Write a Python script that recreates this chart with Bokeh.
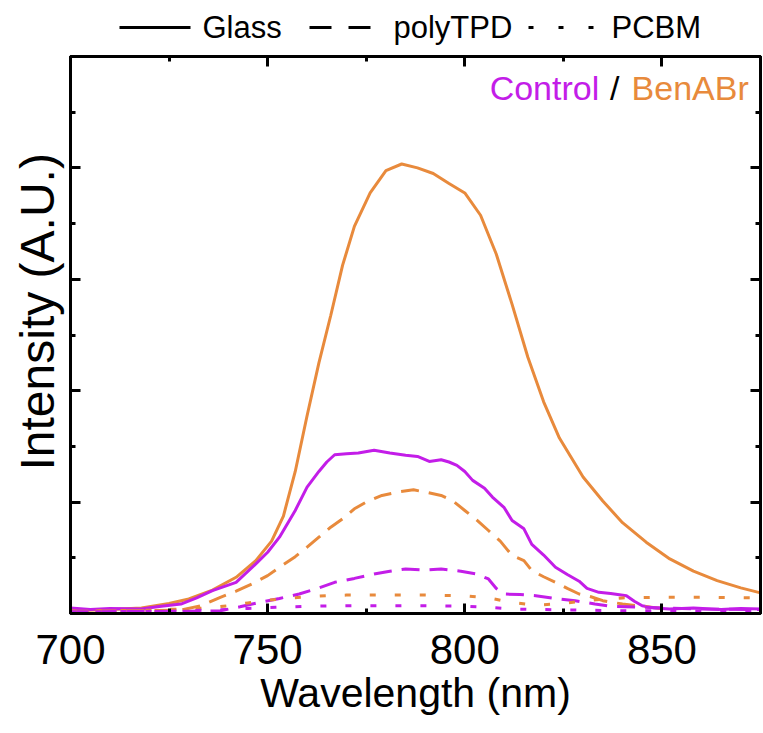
from bokeh.plotting import figure
from bokeh.models import Range1d, FixedTicker, LinearAxis, Label, Title
from bokeh.layouts import column
from bokeh.core.properties import value
from bokeh.embed import file_html
from bokeh.resources import INLINE

# ---- data ----
wl_ben_glass = [700, 710, 718, 725, 730, 736, 742, 747, 751, 754, 757, 760, 763, 766, 769, 772,
                776, 780, 784, 788, 792, 796, 800, 804, 808, 812, 816, 820, 824, 830, 835, 840,
                846, 852, 858, 864, 870, 875]
int_ben_glass = [0.05, 0.07, 0.10, 0.18, 0.26, 0.42, 0.65, 0.95, 1.30, 1.75, 2.55, 3.55, 4.50, 5.35,
                 6.25, 6.95, 7.55, 7.95, 8.07, 8.00, 7.90, 7.72, 7.55, 7.15, 6.45, 5.55, 4.60, 3.80,
                 3.15, 2.45, 2.02, 1.63, 1.28, 0.98, 0.76, 0.59, 0.46, 0.37]

wl_ctrl_glass = [700, 705, 710, 718, 722, 728, 732, 736, 742, 747, 750, 753, 757, 760, 763, 765,
                 767, 770, 773, 777, 781, 785, 788, 791, 794, 796, 798, 800, 802, 805, 807, 810,
                 812, 815, 817, 820, 823, 826, 829, 831, 834, 837, 841, 843, 845, 848, 852, 858,
                 865, 870, 875]
int_ctrl_glass = [0.10, 0.07, 0.09, 0.08, 0.12, 0.17, 0.28, 0.41, 0.56, 0.89, 1.10, 1.37, 1.85,
                  2.27, 2.55, 2.72, 2.85, 2.87, 2.88, 2.93, 2.88, 2.84, 2.82, 2.73, 2.76, 2.72,
                  2.66, 2.55, 2.39, 2.25, 2.09, 1.90, 1.67, 1.52, 1.24, 1.05, 0.83, 0.70, 0.58,
                  0.45, 0.38, 0.36, 0.32, 0.22, 0.14, 0.10, 0.08, 0.10, 0.07, 0.09, 0.08]

wl_ben_ptpd = [700, 718, 728, 733, 738, 742, 746, 750, 753, 757, 760, 763, 766, 769, 772, 775, 779,
               783, 787, 790, 794, 797, 800, 803, 806, 809, 812, 815, 817, 820, 823, 826, 829, 832,
               835, 840, 846, 852]
int_ben_ptpd = [0.04, 0.05, 0.06, 0.14, 0.29, 0.40, 0.53, 0.68, 0.83, 1.02, 1.19, 1.37, 1.55, 1.70,
                1.88, 2.00, 2.12, 2.18, 2.22, 2.18, 2.12, 2.02, 1.85, 1.68, 1.49, 1.30, 1.04, 0.95,
                0.77, 0.66, 0.56, 0.45, 0.35, 0.30, 0.23, 0.17, 0.12, 0.08]

wl_ctrl_ptpd = [700, 730, 738, 743, 748, 753, 758, 763, 767, 772, 777, 781, 785, 790, 794, 799,
                803, 806, 808, 810, 814, 818, 823, 828, 833, 837, 846, 860, 875]
int_ctrl_ptpd = [0.03, 0.04, 0.05, 0.12, 0.20, 0.27, 0.35, 0.46, 0.56, 0.63, 0.71, 0.76, 0.80,
                 0.78, 0.80, 0.76, 0.71, 0.62, 0.45, 0.35, 0.34, 0.32, 0.27, 0.23, 0.17, 0.13,
                 0.11, 0.08, 0.07]

wl_ben_pcbm = [700, 720, 735, 740, 745, 750, 755, 760, 765, 770, 780, 790, 800, 806, 812, 818, 825,
               832, 840, 850, 860, 875]
int_ben_pcbm = [0.04, 0.06, 0.10, 0.14, 0.19, 0.24, 0.27, 0.30, 0.32, 0.33, 0.33, 0.33, 0.32,
                0.28, 0.20, 0.15, 0.18, 0.24, 0.28, 0.29, 0.29, 0.28]

wl_ctrl_pcbm = [700, 725, 735, 745, 752, 760, 770, 780, 790, 800, 806, 812, 820, 830, 840, 850,
                875]
int_ctrl_pcbm = [0.03, 0.04, 0.06, 0.09, 0.11, 0.13, 0.14, 0.14, 0.14, 0.13, 0.11, 0.08, 0.07,
                 0.06, 0.05, 0.05, 0.04]

x_major = [700, 750, 800, 850]
x_minor = [725, 775, 825, 875]
y_major = [2, 4, 6, 8]
y_minor = [1, 3, 5, 7, 9]

legend_labels = ["Glass", "polyTPD", "PCBM"]
sample_names = ["Control", "/", "BenABr"]

PURPLE = "#C31DE8"
ORANGE = "#E88A3C"
FONT = "Liberation Sans"
DASH = "18 10"
DOT = "6 19"

ML, MR = 70, 3  # frame borders (px)

# ---------------- legend strip (above the plot) ----------------
LEG_H = 54
lg = figure(width=763, height=LEG_H, output_backend="svg", toolbar_location=None,
            x_range=Range1d(ML, 763 - MR), y_range=Range1d(0, LEG_H),
            x_axis_location=None, y_axis_location=None,
            min_border_left=ML, min_border_right=MR,
            min_border_top=0, min_border_bottom=0)
lg.outline_line_color = None
lg.xgrid.visible = False
lg.ygrid.visible = False
lg.border_fill_color = "white"

leg_y = LEG_H - 27
lg.line([119, 190], [leg_y, leg_y], color="black", line_width=3)
lg.line([309, 370], [leg_y, leg_y], color="black", line_width=3, line_dash="22 17")
lg.line([528, 596], [leg_y, leg_y], color="black", line_width=3, line_dash="5 25")
lg.text(x=[202, 393, 611], y=[leg_y] * 3, text=legend_labels,
        text_font=value(FONT), text_font_size="31px", text_baseline="middle",
        text_color="black")

# ---------------- main plot ----------------
p = figure(width=763, height=733 - LEG_H, output_backend="svg", toolbar_location=None,
           x_range=Range1d(700, 875), y_range=Range1d(0, 10),
           x_axis_location=None, y_axis_location=None,
           min_border_left=ML, min_border_right=MR, min_border_top=2, min_border_bottom=120)
p.background_fill_color = "white"
p.border_fill_color = "white"
p.xgrid.visible = False
p.ygrid.visible = False
p.outline_line_color = "black"
p.outline_line_width = 3


def tick_axis(ticks, tick_len):
    """Axis that only draws inward tick marks (no labels)."""
    ax = LinearAxis(ticker=FixedTicker(ticks=[], minor_ticks=ticks))
    ax.axis_line_color = "black"
    ax.axis_line_width = 3
    ax.major_tick_line_color = None
    ax.minor_tick_line_width = 3
    ax.minor_tick_in = tick_len
    ax.minor_tick_out = 0
    ax.major_tick_in = 0
    ax.major_tick_out = 0
    ax.major_label_standoff = 0
    return ax


# bottom axis with labels
bx = LinearAxis(ticker=FixedTicker(ticks=x_major, minor_ticks=x_minor),
                axis_label="Wavelength (nm)")
bx.axis_line_color = "black"
bx.axis_line_width = 3
bx.major_tick_line_width = 3
bx.minor_tick_line_width = 3
bx.major_tick_in = 10
bx.major_tick_out = 0
bx.minor_tick_in = 5
bx.minor_tick_out = 0
bx.major_label_text_font = FONT
bx.major_label_text_font_size = "42px"
bx.major_label_text_color = "black"
bx.major_label_standoff = 21
bx.axis_label_text_font = FONT
bx.axis_label_text_font_size = "41px"
bx.axis_label_text_font_style = "normal"
bx.axis_label_text_color = "black"
bx.axis_label_standoff = 3
p.add_layout(bx, "below")

# top ticks
p.add_layout(tick_axis(x_major, 10), "above")
p.add_layout(tick_axis(x_minor, 5), "above")

# left ticks
p.add_layout(tick_axis(y_minor, 5), "left")
p.add_layout(tick_axis(y_major, 10), "left")

# y title, shifted upwards like in the reference
ytitle = Title(text="Intensity (A.U.)", align="left", offset=143,
               text_font=FONT, text_font_size="48px", text_font_style="normal",
               text_color="black", standoff=14)
p.add_layout(ytitle, "left")

# right ticks
p.add_layout(tick_axis(y_major, 10), "right")
p.add_layout(tick_axis(y_minor, 5), "right")

LW = 3
p.line(wl_ben_glass, int_ben_glass, color=ORANGE, line_width=LW)
p.line(wl_ctrl_glass, int_ctrl_glass, color=PURPLE, line_width=LW)
p.line(wl_ben_ptpd, int_ben_ptpd, color=ORANGE, line_width=LW, line_dash=DASH)
p.line(wl_ctrl_ptpd, int_ctrl_ptpd, color=PURPLE, line_width=LW, line_dash=DASH)
p.line(wl_ben_pcbm, int_ben_pcbm, color=ORANGE, line_width=LW, line_dash=DOT)
p.line(wl_ctrl_pcbm, int_ctrl_pcbm, color=PURPLE, line_width=LW, line_dash=DOT)

# sample annotation in top right corner
for txt, xx, col in zip(sample_names, [806.3, 836.8, 842.3], [PURPLE, "black", ORANGE]):
    p.add_layout(Label(x=xx, y=9.44, text=txt, text_color=col, text_font=FONT,
                       text_font_size="34px", text_baseline="alphabetic"))

layout = column(lg, p, spacing=0)
open("out.html", "w").write(file_html(layout, INLINE))
